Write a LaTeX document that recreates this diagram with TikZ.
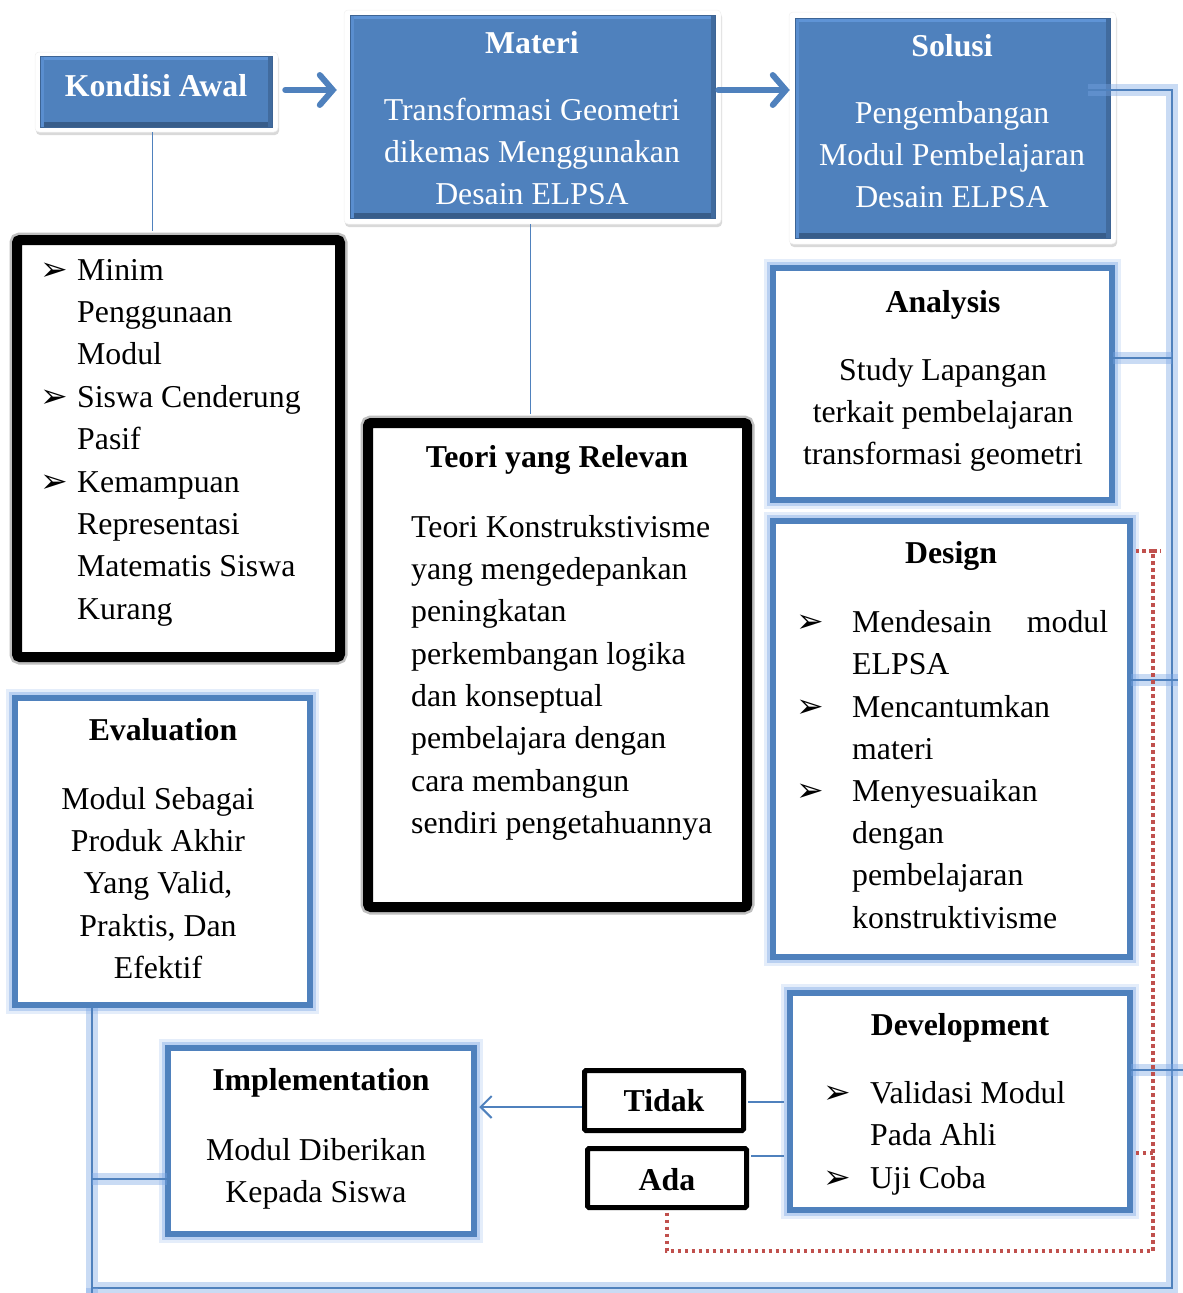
\documentclass[tikz,border=0pt]{standalone}
\usepackage{fontspec}
\setmainfont{Liberation Serif}
\newfontfamily\djv{DejaVu Sans}
\usetikzlibrary{arrows.meta,shadows,calc}
\definecolor{acc}{RGB}{79,129,189}
\definecolor{glowc}{RGB}{120,165,228}
\definecolor{redd}{RGB}{192,80,77}
\definecolor{bdark}{RGB}{56,93,138}
\definecolor{blight}{RGB}{95,148,214}
\newcommand{\st}{\rule{0pt}{30pt}}
\tikzset{
 txt/.style={font=\fontsize{31.8}{42.3}\selectfont, inner sep=0pt, align=center},
 ttl/.style={font=\bfseries\fontsize{31.8}{42.3}\selectfont, inner sep=0pt},
 bul/.style={font=\djv\fontsize{33}{33}\selectfont, inner sep=0pt},
 bluebox/.style={fill=acc, draw=bdark!80!acc, line width=0.8pt, inner sep=0pt,
   path picture={
     \fill[blight] (path picture bounding box.north west) rectangle ([yshift=-4pt]path picture bounding box.north east);
     \fill[bdark] (path picture bounding box.south west) rectangle ([yshift=5pt]path picture bounding box.south east);
     \fill[bdark!60!acc] ([xshift=-4pt]path picture bounding box.north east) rectangle (path picture bounding box.south east);
     \fill[blight!70!acc] (path picture bounding box.north west) rectangle ([xshift=4pt]path picture bounding box.south west);
   }},
 whiteframe/.style={fill=white, draw=black!6, line width=0.5pt, rounded corners=4pt, inner sep=0pt,
   drop shadow={shadow xshift=1pt, shadow yshift=-3pt, fill=black, opacity=0.15}},
 blackbox/.style={draw=black, line width=10pt, fill=white, rounded corners=3pt, inner sep=0pt,
   preaction={draw=black, opacity=0.25, line width=15pt, rounded corners=5pt}},
 smallbox/.style={draw=black, line width=5pt, fill=white, rounded corners=1.5pt, inner sep=0pt},
 glowbox/.style={draw=acc, line width=5.5pt, fill=white, inner sep=0pt,
   preaction={draw=glowc, line width=18pt, opacity=0.2, rounded corners=7pt},
   preaction={draw=glowc, line width=12pt, opacity=0.4, rounded corners=4pt}},
 glowline/.style={draw=acc, line width=2pt,
   preaction={draw=glowc, line width=12pt, opacity=0.4}},
 thinblue/.style={draw=acc, line width=1.5pt},
 bigarrow/.style={draw=acc, line width=6pt, line cap=round, line join=round,
   -{Straight Barb[length=13pt,width=30pt,line cap=round]}},
 smallarrow/.style={draw=acc, line width=2pt, -{Straight Barb[length=11pt,width=22pt]}},
 reddot/.style={draw=redd, line width=3.5pt, dash pattern=on 3.5pt off 3.5pt},
}
\begin{document}
\begin{tikzpicture}[x=1pt,y=-1pt]
\useasboundingbox (0,0) rectangle (1183,1293);

% ---------- top row ----------
\node[whiteframe, minimum width=243pt, minimum height=80pt] (kaframe) at (156.5,92) {};
\node[bluebox, minimum width=232pt, minimum height=71pt] (ka) at (156,91.5) {};
\node[ttl, text=white, anchor=base] (kat) at (156,96) {Kondisi Awal};

\node[whiteframe, minimum width=377pt, minimum height=214pt] (matframe) at (532.5,117) {};
\node[bluebox, minimum width=365pt, minimum height=203pt] (mat) at (532.5,116.5) {};
\node[ttl, text=white, anchor=base] (matt) at (532,53) {Materi};
\node[txt, text=white, anchor=north] (matb) at (532,90) {\st Transformasi Geometri\\dikemas Menggunakan\\Desain ELPSA};

\node[whiteframe, minimum width=327pt, minimum height=232pt] (solframe) at (952.5,128) {};
\node[bluebox, minimum width=315pt, minimum height=220pt] (sol) at (952.5,128) {};
\node[ttl, text=white, anchor=base] (solt) at (952,56) {Solusi};
\node[txt, text=white, anchor=north] (solb) at (952,93) {\st Pengembangan\\Modul Pembelajaran\\Desain ELPSA};

% ---------- left list ----------
\node[blackbox, minimum width=323pt, minimum height=417pt] (lbox) at (178.5,448.5) {};
\node[bul, anchor=base west] (lb1) at (40,280) {➢};
\node[bul, anchor=base west] (lb2) at (40,407) {➢};
\node[bul, anchor=base west] (lb3) at (40,492) {➢};
\node[txt, align=left, anchor=north west] (l1) at (77,250) {\st Minim\\Penggunaan\\Modul};
\node[txt, align=left, anchor=north west] (l2) at (77,377) {\st Siswa Cenderung\\Pasif};
\node[txt, align=left, anchor=north west] (l3) at (77,462) {\st Kemampuan\\Representasi\\Matematis Siswa\\Kurang};

% ---------- teori ----------
\node[blackbox, minimum width=379pt, minimum height=484pt] (teori) at (557.5,665) {};
\node[ttl, anchor=base] (teorit) at (557,467) {Teori yang Relevan};
\node[txt, align=left, anchor=north west] (teorib) at (411,507) {\st Teori Konstrukstivisme\\yang mengedepankan\\peningkatan\\perkembangan logika\\dan konseptual\\pembelajara dengan\\cara membangun\\sendiri pengetahuannya};

% ---------- analysis ----------
\node[glowbox, minimum width=339pt, minimum height=232pt] (an) at (942.5,384) {};
\node[ttl, anchor=base] (ant) at (943,312) {Analysis};
\node[txt, anchor=north] (anb) at (943,350) {\st Study Lapangan\\terkait pembelajaran\\transformasi geometri};

% ---------- design ----------
\node[glowbox, minimum width=357pt, minimum height=436pt] (de) at (951.5,739) {};
\node[ttl, anchor=base] (det) at (951,563) {Design};
\node[bul, anchor=base west] (db1) at (796,632) {➢};
\node[bul, anchor=base west] (db2) at (796,717) {➢};
\node[bul, anchor=base west] (db3) at (796,801) {➢};
\node[txt, align=left, anchor=north west] (d1) at (852,602) {\st\makebox[256pt][l]{Mendesain\hfill modul}\\ELPSA};
\node[txt, align=left, anchor=north west] (d2) at (852,687) {\st Mencantumkan\\materi};
\node[txt, align=left, anchor=north west] (d3) at (852,771) {\st Menyesuaikan\\dengan\\pembelajaran\\konstruktivisme};

% ---------- evaluation ----------
\node[glowbox, minimum width=295pt, minimum height=307pt] (ev) at (162.5,851.5) {};
\node[ttl, anchor=base] (evt) at (163,740) {Evaluation};
\node[txt, anchor=north] (evb) at (158,779) {\st Modul Sebagai\\Produk Akhir\\Yang Valid,\\Praktis, Dan\\Efektif};

% ---------- implementation ----------
\node[glowbox, minimum width=306pt, minimum height=186pt] (im) at (321,1141) {};
\node[ttl, anchor=base] (imt) at (321,1090) {Implementation};
\node[txt, anchor=north] (imb) at (316,1130) {\st Modul Diberikan\\Kepada Siswa};

% ---------- development ----------
\node[glowbox, minimum width=340pt, minimum height=217pt] (dev) at (960,1101.5) {};
\node[ttl, anchor=base] (devt) at (960,1035) {Development};
\node[bul, anchor=base west] (vb1) at (823,1103) {➢};
\node[bul, anchor=base west] (vb2) at (823,1188) {➢};
\node[txt, align=left, anchor=north west] (v1) at (870,1073) {\st Validasi Modul\\Pada Ahli};
\node[txt, align=left, anchor=north west] (v2) at (870,1158) {\st Uji Coba};

% ---------- tidak / ada ----------
\node[smallbox, minimum width=159pt, minimum height=60pt] (tidak) at (664,1100.5) {};
\node[ttl, anchor=base] (tidakt) at (664,1111) {Tidak};
\node[smallbox, minimum width=159pt, minimum height=59pt] (ada) at (667,1178) {};
\node[ttl, anchor=base] (adat) at (667,1190) {Ada};

% ---------- coordinates ----------
\coordinate (row) at (0,90);
\coordinate (busTop) at (1172,90);
\coordinate (busBot) at (1172,1288);
\coordinate (busBL) at (92,1288);
\coordinate (anRow) at (1172,358);
\coordinate (deRow) at (1178,680);
\coordinate (dvRow) at (1183,1070);
\coordinate (imRow) at (92,1179);
\coordinate (redTop) at (1153,551);
\coordinate (redMid) at (1153,1153);
\coordinate (redBot) at (1153,1251);

% ---------- connectors ----------
\draw[bigarrow] ([xshift=7pt]kaframe.east |- row) -- ([xshift=-7pt]matframe.west |- row);
\draw[bigarrow] ([xshift=-3pt]matframe.east |- row) -- ([xshift=1pt]solframe.west |- row);
\draw[thinblue, shorten >=4pt] ([xshift=-4pt]kaframe.south) -- ([xshift=-4pt]kaframe.south |- lbox.north);
\draw[thinblue, shorten >=4pt] ([xshift=-2pt]matframe.south) -- ([xshift=-2pt]matframe.south |- teori.north);

\draw[glowline] ([xshift=-22pt]sol.east |- busTop) -- (busTop) -- (busBot) -- (busBL) -- (busBL |- ev.south);
\draw[glowline] ([xshift=-2pt]an.east |- anRow) -- (anRow);
\draw[glowline] ([xshift=-2pt]de.east |- deRow) -- (deRow);
\draw[glowline] ([xshift=-2pt]dev.east |- dvRow) -- (dvRow);
\draw[glowline] (imRow) -- ([xshift=2pt]im.west |- imRow);
\draw[glowline] (busBL) -- ++(0,6);

\draw[smallarrow] ($(tidak.west)+(0,6.5)$) -- ([xshift=2.5pt]im.east |- {$(tidak.west)+(0,6.5)$});
\draw[thinblue] ([xshift=2pt]tidak.east |- {0,1102}) -- ([xshift=-3pt]dev.west |- {0,1102});
\draw[thinblue] ([xshift=2pt]ada.east |- {0,1156}) -- ([xshift=-3pt]dev.west |- {0,1156});

\draw[reddot] ([yshift=-2.5pt]ada.south) -- (ada.south |- redBot) -- (redBot) -- (redTop) -- ([xshift=3pt]de.east |- redTop);
\draw[reddot] (redTop) -- ++(8,0);
\draw[reddot] ([xshift=3pt]dev.east |- redMid) -- (redMid);
\end{tikzpicture}
\end{document}
